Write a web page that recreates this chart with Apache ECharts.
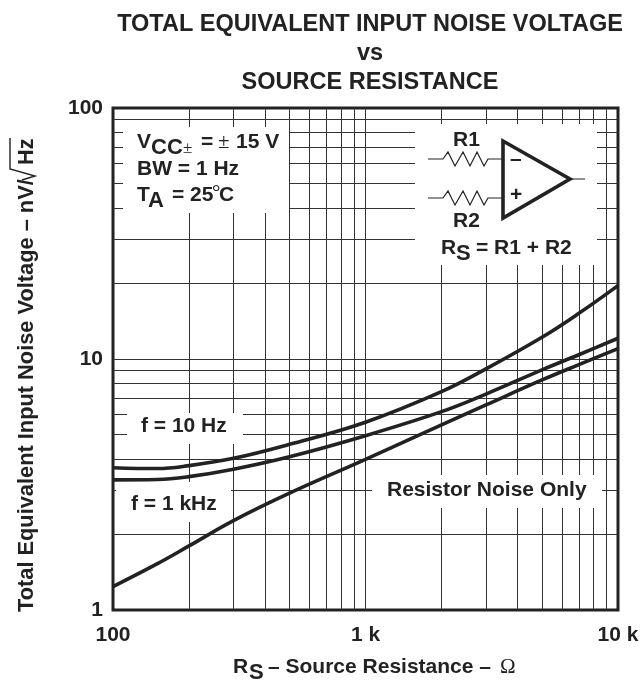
<!DOCTYPE html>
<html>
<head>
<meta charset="utf-8">
<script src="https://cdn.jsdelivr.net/npm/echarts@6/dist/echarts.min.js"></script>
<style>
html, body { margin: 0; background: #fff; }
#main { width: 644px; height: 682px; }
</style>
</head>
<body>
<div id="main"></div>
<script>
var resistance = [100, 150, 200, 300, 500, 1000, 2000, 3000, 5000, 7000, 10000];
var noise10Hz = [3.69, 3.66, 3.76, 4.02, 4.57, 5.6, 7.41, 9.13, 12.2, 15.2, 19.6];
var noise1kHz = [3.3, 3.31, 3.4, 3.64, 4.08, 4.95, 6.17, 7.25, 9.05, 10.4, 12.1];
var noiseResistor = [1.24, 1.53, 1.8, 2.27, 2.92, 3.98, 5.46, 6.56, 8.25, 9.5, 11.0];
var xGridValues = [200, 300, 400, 500, 600, 700, 800, 900, 1000, 2000, 3000, 4000, 5000, 6000, 7000, 8000, 9000];
var yGridValues = [2, 3, 4, 5, 6, 7, 8, 9, 10, 20, 30, 40, 50, 60, 70, 80, 90];
var xTickLabels = { 100: '100', 1000: '1 k', 10000: '10 k' };

var INK = '#222';
var BOLD = 'bold 21px "Liberation Sans", Arial, sans-serif';
var SUB = 'bold 22px "Liberation Sans", Arial, sans-serif';

function pairs(ys) {
    var res = [];
    for (var i = 0; i < resistance.length; i++) {
        res.push([resistance[i], ys[i]]);
    }
    return res;
}

function curve(name, ys) {
    return {
        name: name,
        type: 'line',
        data: pairs(ys),
        smooth: 0.4,
        showSymbol: false,
        silent: true,
        z: 10,
        lineStyle: { color: INK, width: 3.6 }
    };
}

function txt(str, x, y, font) {
    return {
        type: 'text', z: 20, silent: true,
        style: { text: str, x: x, y: y, font: font || BOLD, fill: INK, textAlign: 'left', textVerticalAlign: 'middle' }
    };
}

// white patches that the chart's notes sit on
function mask(x, y, w, h) {
    return { type: 'rect', z: 2, silent: true, shape: { x: x, y: y, width: w, height: h }, style: { fill: '#fff' } };
}

function wire(points, width) {
    return { type: 'polyline', z: 20, silent: true, shape: { points: points }, style: { stroke: INK, lineWidth: width || 1, fill: null } };
}

function resistor(y) {
    return wire([[428, y], [443, y], [448, y - 7], [455, y + 7], [463, y - 7], [470, y + 7], [477, y - 7], [484, y + 7], [488, y], [503, y]], 1.2);
}

function vertical(str, y) {
    return {
        type: 'text', z: 20, silent: true, x: 27, y: y, rotation: Math.PI / 2,
        style: { text: str, x: 0, y: 0, font: 'bold 21.8px "Liberation Sans", Arial, sans-serif', fill: INK, textAlign: 'left', textVerticalAlign: 'middle' }
    };
}

var graphicArr = [
    mask(123, 127, 166, 86),
    mask(415, 124, 182, 141),
    mask(127, 413, 116, 31),
    mask(116, 482, 115, 40),
    mask(372, 475, 230, 33),

    txt('V', 137, 142),
    txt('CC', 151, 148, SUB),
    txt('\u00b1', 183, 149, '17px "Liberation Serif"'),
    txt('=', 201, 142),
    txt('\u00b1', 218, 142, '21px "Liberation Serif"'),
    txt('15 V', 236, 142),
    txt('BW = 1 Hz', 137, 169),
    txt('T', 137, 195),
    txt('A', 148, 201, SUB),
    txt('= 25', 172, 195),
    txt('\u00b0', 212, 193, '21px "Liberation Serif"'),
    txt('C', 219, 195),

    txt('R1', 453, 140),
    txt('R2', 453, 221),
    txt('R', 441, 248),
    txt('S', 456, 254, SUB),
    txt('= R1 + R2', 476, 248),
    resistor(159),
    resistor(198),
    { type: 'polygon', z: 20, silent: true, shape: { points: [[503, 141], [503, 218], [570, 179]] }, style: { stroke: INK, lineWidth: 3.6, fill: '#fff' } },
    wire([[570, 179], [585, 179]]),
    txt('\u2013', 510, 159),
    txt('+', 510, 195),

    txt('f = 10 Hz', 141, 426),
    txt('f = 1 kHz', 131, 504),
    txt('Resistor Noise Only', 387, 490),

    txt('R', 233, 667),
    txt('S', 249, 673, SUB),
    txt('\u2013 Source Resistance \u2013', 268, 667),
    txt('\u03a9', 500, 667, '21px "Liberation Serif"'),

    vertical('Total Equivalent Input Noise Voltage \u2013 nV/', 612),
    vertical('Hz', 165),
    wire([[10, 138], [10, 169], [35, 176], [22, 180]], 1.4)
];

var chart = echarts.init(document.getElementById('main'));
chart.setOption({
    animation: false,
    backgroundColor: '#fff',
    title: {
        text: 'TOTAL EQUIVALENT INPUT NOISE VOLTAGE\nvs\nSOURCE RESISTANCE',
        left: 365,
        top: 5,
        textAlign: 'center',
        textStyle: { fontFamily: '"Liberation Sans", Arial', fontWeight: 'bold', fontSize: 23.5, color: INK, lineHeight: 29 }
    },
    grid: { left: 113, top: 108, width: 505, height: 502, show: true, borderColor: INK, borderWidth: 3, backgroundColor: 'transparent' },
    xAxis: {
        type: 'log',
        logBase: 10,
        min: 100,
        max: 10000,
        splitLine: { show: false },
        axisLine: { show: false },
        axisTick: { show: false },
        axisLabel: {
            margin: 15,
            color: INK,
            fontFamily: '"Liberation Sans", Arial',
            fontWeight: 'bold',
            fontSize: 21,
            hideOverlap: false,
            formatter: function(v) { return xTickLabels[v] || ''; }
        }
    },
    yAxis: {
        type: 'log',
        logBase: 10,
        min: 1,
        max: 100,
        splitLine: { show: false },
        axisLine: { show: false },
        axisTick: { show: false },
        axisLabel: {
            margin: 10,
            color: INK,
            fontFamily: '"Liberation Sans", Arial',
            fontWeight: 'bold',
            fontSize: 21
        }
    },
    graphic: graphicArr,
    series: [
        {
            name: 'grid',
            type: 'line',
            data: [],
            silent: true,
            markLine: {
                silent: true,
                symbol: 'none',
                animation: false,
                z: 1,
                label: { show: false },
                lineStyle: { color: '#333', width: 1, type: 'solid' },
                data: xGridValues.map(function(v) { return { xAxis: v }; })
                    .concat(yGridValues.map(function(v) { return { yAxis: v }; }))
            }
        },
        curve('f = 10 Hz', noise10Hz),
        curve('f = 1 kHz', noise1kHz),
        curve('Resistor Noise Only', noiseResistor)
    ]
});
</script>
</body>
</html>
